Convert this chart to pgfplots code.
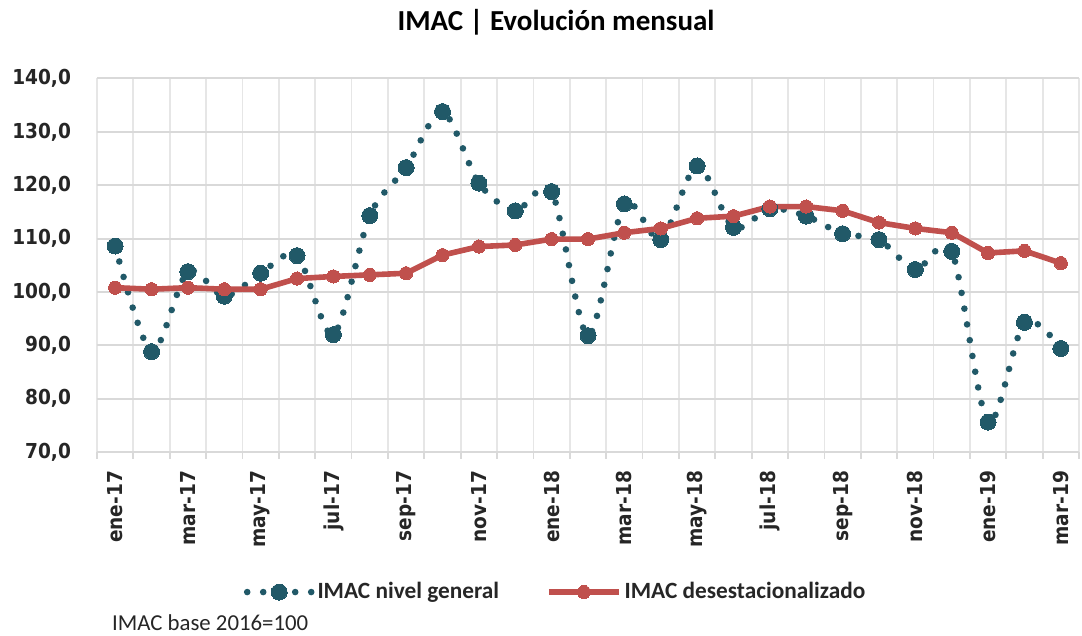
\documentclass[border=0pt]{standalone}
\usepackage{pgfplots}
\pgfplotsset{compat=1.18}
\usepackage{fontspec}
\setmainfont{Carlito}
\newfontfamily\tickfont[FakeStretch=0.9]{DejaVu Sans}
\definecolor{teal1}{HTML}{215968}
\definecolor{red1}{HTML}{C0504D}
\definecolor{gridh}{HTML}{D9D9D9}
\definecolor{gridv}{HTML}{E6E6E6}
\definecolor{txt}{HTML}{262626}
\pgfplotsset{
  legA/.style={legend image code/.code={\draw[mark repeat=2, mark phase=2, ##1] plot coordinates {(0pt,0pt) (16pt,0pt) (32pt,0pt)};}},
  legB/.style={legend image code/.code={\draw[mark repeat=2, mark phase=2, ##1] plot coordinates {(0pt,0pt) (17.5pt,0pt) (35pt,0pt)};}},
}
\begin{document}
\begin{tikzpicture}
\begin{axis}[
  scale only axis,
  width=491pt, height=186.75pt,
  xmin=-0.5, xmax=26.5,
  ymin=70, ymax=140,
  ytick={70,80,...,140},
  yticklabels={{70,0},{80,0},{90,0},{100,0},{110,0},{120,0},{130,0},{140,0}},
  xtick={0,2,...,26},
  xticklabels={ene-17,mar-17,may-17,jul-17,sep-17,nov-17,ene-18,mar-18,may-18,jul-18,sep-18,nov-18,ene-19,mar-19},
  minor xtick={-0.5,0.5,...,26.5},
  xminorgrids=true, ymajorgrids=true, xmajorgrids=false,
  major grid style={draw=gridh, line width=1pt},
  minor grid style={draw=gridv, line width=0.9pt},
  axis line style={draw=none},
  tick align=outside,
  xtick pos=bottom, ytick pos=left,
  major tick length=0pt,
  minor tick length=3.5pt,
  minor x tick style={draw=gridh, line width=0.9pt},
  major tick style={draw=none},
  xticklabel style={font=\tickfont\bfseries\fontsize{10.3}{12}\selectfont, text=txt, rotate=90, anchor=east},
  yticklabel style={font=\tickfont\bfseries\fontsize{10.3}{12}\selectfont, text=txt},
  xticklabel shift=6pt,
  yticklabel shift=9.5pt,
  clip=false,
  legend columns=2,
  legend style={at={(0.4675,-0.375)}, anchor=center, draw=none, fill=none,
    font=\bfseries\fontsize{11.65}{14}\selectfont, text=txt,
    /tikz/every even column/.append style={column sep=22pt},
    nodes={inner sep=1.5pt}},
]
\addplot[teal1, smooth, line width=3.3pt, line cap=round, dash pattern=on 0pt off 8pt,
  mark=*, mark size=4pt, mark options={solid, fill=teal1, draw=teal1, line width=0pt}, legA]
coordinates {
(0,108.6) (1,88.8) (2,103.8) (3,99.2) (4,103.5) (5,106.8) (6,92.0) (7,114.3) (8,123.3)
(9,133.8) (10,120.4) (11,115.2) (12,118.8) (13,91.8) (14,116.5) (15,109.8) (16,123.6) (17,112.1)
(18,115.6) (19,114.2) (20,110.9) (21,109.8) (22,104.2) (23,107.6) (24,75.6) (25,94.3) (26,89.4)
};
\addlegendentry{IMAC nivel general}
\addplot[red1, line width=2.8pt, line join=round,
  mark=*, mark size=3.3pt, mark options={solid, fill=red1, draw=red1, line width=0pt}, legB]
coordinates {
(0,100.8) (1,100.5) (2,100.8) (3,100.5) (4,100.5) (5,102.5) (6,102.9) (7,103.2) (8,103.5)
(9,106.9) (10,108.5) (11,108.8) (12,109.9) (13,109.9) (14,111.1) (15,111.9) (16,113.8) (17,114.2)
(18,116.0) (19,116.0) (20,115.2) (21,113.0) (22,111.9) (23,111.1) (24,107.3) (25,107.7) (26,105.4)
};
\addlegendentry{IMAC desestacionalizado}
\coordinate (O) at (rel axis cs:0,0);
\end{axis}
\node[anchor=base, inner sep=0pt, font=\bfseries\fontsize{14.5}{17}\selectfont, text=black] at ([shift={(229.5pt,210.6pt)}]O) {IMAC | Evolución mensual};
\node[anchor=base west, inner sep=0pt, font=\fontsize{11.4}{13}\selectfont, text=txt] at ([shift={(7.35pt,-89.2pt)}]O) {IMAC base 2016=100};
\pgfresetboundingbox
\path[use as bounding box] ([shift={(-48.5pt,-92pt)}]O) rectangle ++(541pt,318pt);
\end{tikzpicture}
\end{document}
